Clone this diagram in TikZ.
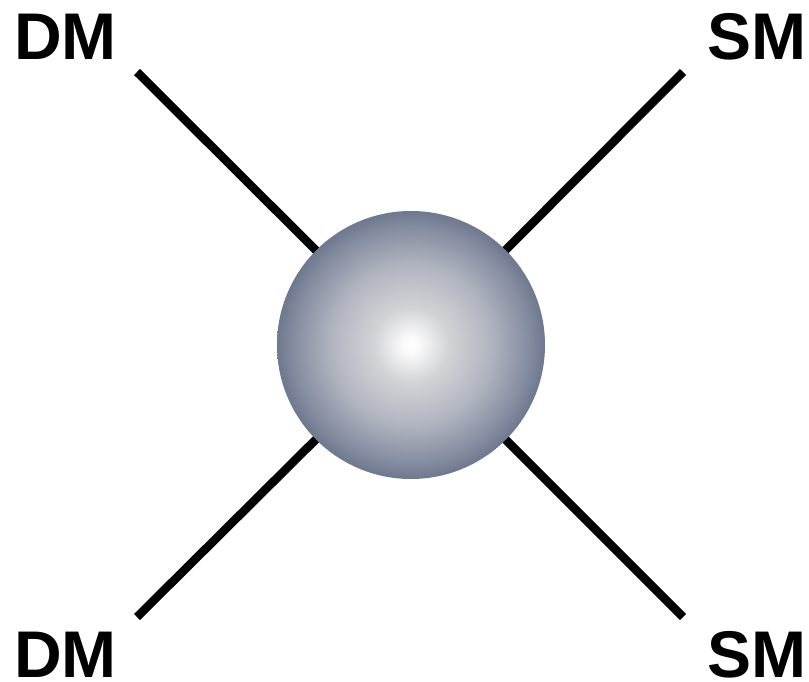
\documentclass[tikz,border=0pt]{standalone}
\usepackage{fontspec}
\setmainfont{Liberation Sans}
\definecolor{sA}{RGB}{250,250,250}
\definecolor{sB}{RGB}{210,211,214}
\definecolor{sC}{RGB}{176,180,192}
\definecolor{sD}{RGB}{132,140,160}
\definecolor{sE}{RGB}{110,120,142}
\pgfdeclareradialshading{ballsh}{\pgfpoint{0bp}{0bp}}{color(0bp)=(white); color(1.5bp)=(sA); color(7bp)=(sB); color(15bp)=(sC); color(22bp)=(sD); color(25bp)=(sE); color(50bp)=(sE)}
\tikzset{
  lbl/.style={font=\fontsize{66}{66}\selectfont\bfseries, inner sep=0pt, anchor=center},
  leg/.style={line width=8.5pt, line cap=butt, black},
  ball/.style={circle, minimum size=268pt, inner sep=0pt, shading=ballsh, draw=none}
}
\begin{document}
\begin{tikzpicture}[x=1pt,y=-1pt]
\useasboundingbox (0,0) rectangle (809,682);
\coordinate (ctr) at (411,345);
\coordinate (eTL) at (137,72);
\coordinate (eTR) at (683,72);
\coordinate (eBL) at (137,617);
\coordinate (eBR) at (683,617);
\draw[leg] (eTL) -- (ctr);
\draw[leg] (eTR) -- (ctr);
\draw[leg] (eBL) -- (ctr);
\draw[leg] (eBR) -- (ctr);
\node[ball] (blob) at (ctr) {};
\node[lbl] (dm1) at (65.5,36.5) {DM};
\node[lbl] (sm1) at (756.5,36.5) {SM};
\node[lbl] (dm2) at (65.5,654.5) {DM};
\node[lbl] (sm2) at (756.5,654.5) {SM};
\end{tikzpicture}
\end{document}
